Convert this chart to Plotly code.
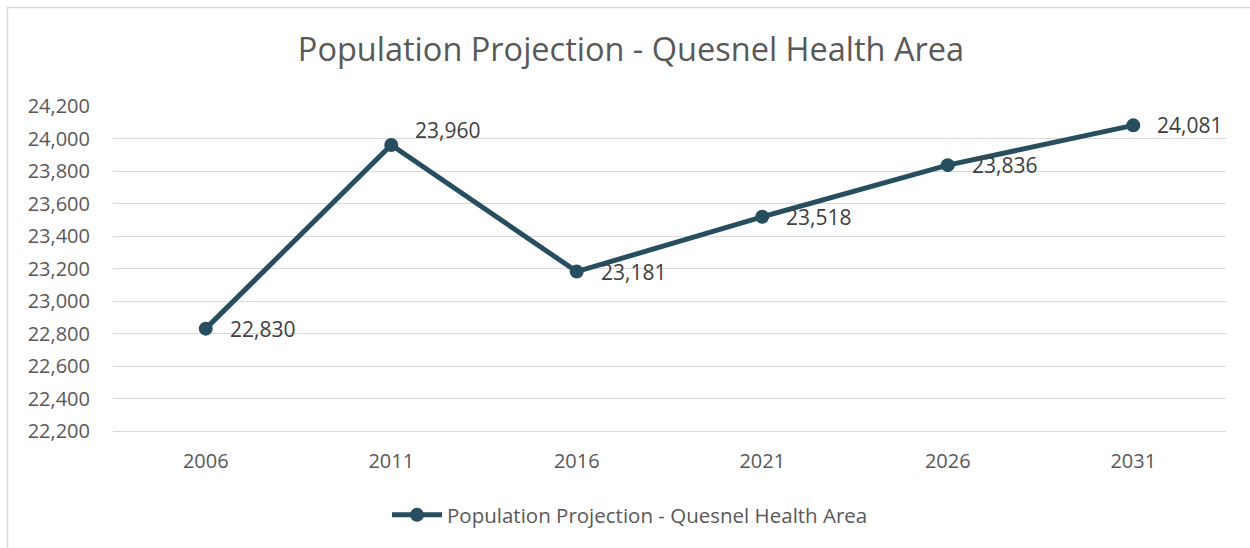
import plotly.graph_objects as go

years = ["2006", "2011", "2016", "2021", "2026", "2031"]
population = [22830, 23960, 23181, 23518, 23836, 24081]
label_yshift = [0, 15, 0, 0, 0, 0]
series_name = "Population Projection - Quesnel Health Area"
y_ticks = list(range(22200, 24201, 200))

W, H = 1250, 548
ml, mr, mt, mb = 113, 24, 106, 117
pw, ph = W - ml - mr, H - mt - mb

fig = go.Figure()
fig.add_trace(go.Scatter(
    x=years, y=population, mode="lines+markers",
    name=series_name,
    line=dict(color="#264E5E", width=5),
    marker=dict(color="#264E5E", size=14),
    cliponaxis=False,
))

for i, (v, ys) in enumerate(zip(population, label_yshift)):
    fig.add_annotation(x=i, y=v, text=f"{v:,}", showarrow=False,
                       xanchor="left", yanchor="middle", xshift=22, yshift=ys,
                       font=dict(family="Open Sans", size=21, color="#404040"))

fig.update_layout(
    width=W, height=H,
    margin=dict(l=ml, r=mr, t=mt, b=mb, autoexpand=False),
    paper_bgcolor="white", plot_bgcolor="white",
    title=dict(text=series_name, xref="container", x=631 / W, xanchor="center",
               y=1 - 50 / H, yanchor="middle",
               font=dict(family="Open Sans", size=32.5, color="#595959")),
    xaxis=dict(type="category", categoryorder="array", categoryarray=years,
               range=[-0.5, len(years) - 0.5], tickangle=0,
               showgrid=False, showline=True, linecolor="#D9D9D9", linewidth=1.3,
               zeroline=False,
               ticks="", tickfont=dict(family="Open Sans", size=20, color="#595959"),
               ticklabelstandoff=12),
    yaxis=dict(range=[22200, 24200], tickvals=y_ticks, tickformat=",d",
               showgrid=True, gridcolor="#D9D9D9", gridwidth=1.3, zeroline=False,
               showline=False, ticks="", ticklabelstandoff=22,
               tickfont=dict(family="Open Sans", size=20, color="#595959")),
    showlegend=True,
    legend=dict(orientation="h", x=(630 - ml) / pw, xanchor="center",
                y=(431 - 515) / ph, yanchor="middle",
                font=dict(family="Open Sans", size=20.5, color="#595959"), itemwidth=50),
    shapes=[dict(type="rect", xref="paper", yref="paper",
                 x0=-(ml - 7.5) / pw, x1=1.2,
                 y0=-0.5, y1=1 + (mt - 7.5) / ph,
                 line=dict(color="#D9D9D9", width=1.5), fillcolor="rgba(0,0,0,0)", layer="below")],
)

fig.write_html("out.html", config={"displayModeBar": False},
               post_script="document.body.style.margin='0';")
